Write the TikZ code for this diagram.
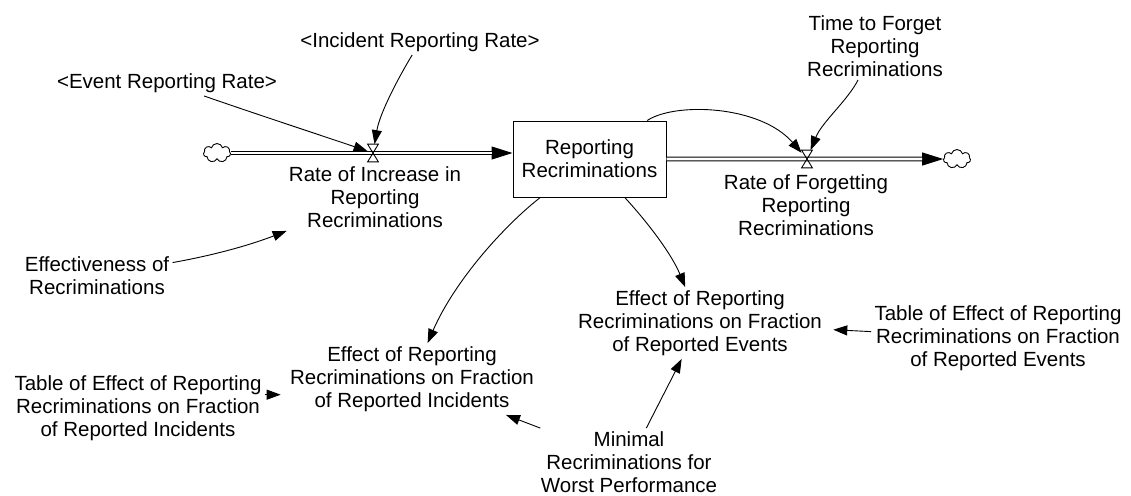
\documentclass[tikz,border=0pt]{standalone}
\usepackage{fontspec}
\setmainfont{Liberation Sans}
\usetikzlibrary{arrows.meta,shapes.symbols}
\begin{document}
\begin{tikzpicture}[x=0.5pt,y=-0.5pt,
  lbl/.style={align=center,font=\fontsize{10.25}{11.5}\selectfont,inner sep=1.5pt},
  stock/.style={draw,line width=0.5pt,minimum width=76.5pt,minimum height=38pt,align=center,font=\fontsize{10.25}{11.5}\selectfont,inner sep=0pt},
  valve/.style={inner sep=0pt,minimum width=5pt,minimum height=8.5pt},
  sink/.style={cloud,cloud puffs=7,draw,line width=0.45pt,minimum width=13.5pt,minimum height=9.5pt,inner sep=0pt,aspect=1.4},
  link/.style={line width=0.45pt,-{Triangle[length=7pt,width=5pt]}},
  pipe/.style={line width=0.5pt,double,double distance=1.4pt},
  pipetip/.style={line width=0.5pt,-{Triangle[length=10.5pt,width=6.5pt]}},
  valveshape/.style={line width=0.45pt}
]
\useasboundingbox (0,0) rectangle (1131,495);

% nodes
\node[stock] (box) at (589.5,159) {Reporting\\Recriminations};
\node[sink] (cloudL) at (217,153) {};
\node[sink] (cloudR) at (957,159) {};
\node[valve] (valveL) at (373,153) {};
\node[valve] (valveR) at (807,159) {};
\node[lbl] (rateIn) at (375,197) {Rate of Increase in\\Reporting\\Recriminations};
\node[lbl] (rateOut) at (806,205) {Rate of Forgetting\\Reporting\\Recriminations};
\node[lbl] (evt) at (167,83) {<Event Reporting Rate>};
\node[lbl] (inc) at (420,42) {<Incident Reporting Rate>};
\node[lbl] (ttf) at (875,46) {Time to Forget\\Reporting\\Recriminations};
\node[lbl] (eff) at (97,276) {Effectiveness of\\Recriminations};
\node[lbl] (ere) at (700,323) {Effect of Reporting\\Recriminations on Fraction\\of Reported Events};
\node[lbl] (tere) at (998,338) {Table of Effect of Reporting\\Recriminations on Fraction\\of Reported Events};
\node[lbl] (eri) at (412,379) {Effect of Reporting\\Recriminations on Fraction\\of Reported Incidents};
\node[lbl] (teri) at (138,408) {Table of Effect of Reporting\\Recriminations on Fraction\\of Reported Incidents};
\node[lbl] (minp) at (629,462) {Minimal\\Recriminations for\\Worst Performance};

% pipes (flows)
\draw[pipetip] (cloudL.east) -- (cloudL.east -| box.west);
\draw[pipe,shorten >=10.5pt] (cloudL.east) -- (cloudL.east -| box.west);
\draw[pipetip] (box.east) -- (cloudR.west);
\draw[pipe,shorten >=10.5pt] (box.east) -- (cloudR.west);

% valves
\draw[valveshape] (valveL.north west) -- (valveL.north east) -- (valveL.south west) -- (valveL.south east) -- cycle;
\draw[valveshape] (valveR.north west) -- (valveR.north east) -- (valveR.south west) -- (valveR.south east) -- cycle;

% information links
\draw[link] (evt) .. controls (250,112) and (320,135) .. (valveL);
\draw[link] (inc) .. controls (400,75) and (380,112) .. (valveL);
\draw[link] (box) .. controls (675,102) and (760,105) .. (valveR);
\draw[link] (ttf) .. controls (848,100) and (822,122) .. (valveR);
\draw[link] (eff) .. controls (215,255) and (250,245) .. (rateIn);
\draw[link] (box) .. controls (650,225) and (672,255) .. (ere);
\draw[link] (box) .. controls (505,225) and (455,280) .. (eri);
\draw[link,shorten >=4pt] (tere) -- (ere);
\draw[link] (minp) -- (ere);
\draw[link] (minp) -- (eri);
\draw[link,shorten >=3pt] (teri.6) -- (eri.west |- teri.6);
\end{tikzpicture}
\end{document}
